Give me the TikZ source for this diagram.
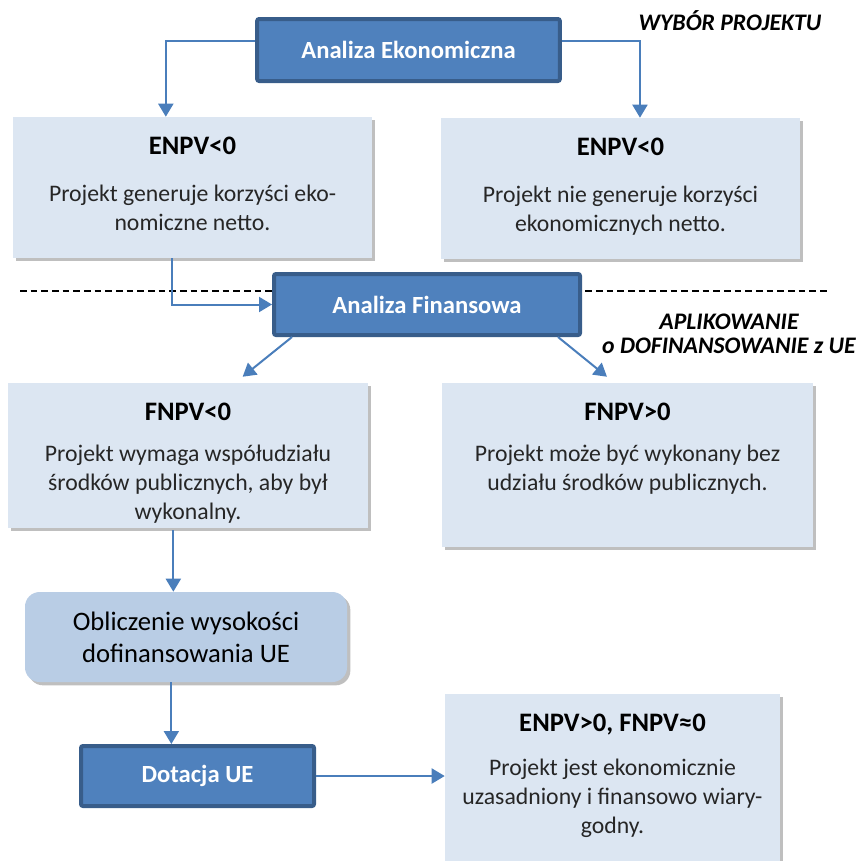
\documentclass[tikz,border=0pt]{standalone}
\usepackage{fontspec}
\setmainfont{Carlito}
\usetikzlibrary{arrows.meta,shadows}

\definecolor{jasny}{HTML}{DCE6F2}
\definecolor{sredni}{HTML}{B9CDE5}
\definecolor{niebieski}{HTML}{4F81BD}
\definecolor{ramka}{HTML}{385D8A}
\definecolor{strzalka}{HTML}{4A7EBB}
\definecolor{tekst}{HTML}{262626}

% wysokosc, szerokosc, naglowek, odstep, opis
\newcommand{\opis}[5]{\parbox[c][#1][t]{#2}{\centering
  \rule{0pt}{27.75pt}{\bfseries\fontsize{20}{24}\selectfont #3\par}\vspace{#4}
  {\color{tekst}\fontsize{17.8}{21.75}\selectfont #5\par}}}

\begin{document}
\begin{tikzpicture}[x=0.75pt,y=-0.75pt,
    glowny/.style={rectangle,draw=ramka,line width=3pt,fill=niebieski,rounded corners=1.5pt,
      text=white,font=\bfseries\fontsize{18.5}{22}\selectfont},
    infobox/.style={rectangle,fill=jasny,inner sep=0pt,
      drop shadow={shadow xshift=2.5pt,shadow yshift=-2.5pt,fill=black,opacity=0.25}},
    oblbox/.style={rectangle,fill=sredni,rounded corners=11pt,align=center,
      font=\fontsize{20}{24}\selectfont,
      drop shadow={shadow xshift=2.5pt,shadow yshift=-2.5pt,fill=black,opacity=0.25}},
    etykieta/.style={align=center,font=\bfseries\itshape\fontsize{17.8}{18}\selectfont},
    strz/.style={draw=strzalka,line width=1.5pt,-{Triangle[length=9.75pt,width=11.25pt]}}]
\useasboundingbox (0,0) rectangle (863,860);

\draw[line width=1.2pt,dash pattern=on 5pt off 3pt] (20,291) -- (828,291);

\node[glowny,minimum width=227pt,minimum height=46.5pt] (ekon) at (408.5,50) {Analiza Ekonomiczna};
\node[infobox] (enpvL) at (192.5,187.5) {\opis{105.75pt}{269.25pt}{ENPV<0}{13.5pt}{Projekt generuje korzyści eko-\\nomiczne netto.}};
\node[infobox] (enpvR) at (620.5,188.5) {\opis{105.75pt}{269.25pt}{ENPV<0}{13.5pt}{Projekt nie generuje korzyści\\ekonomicznych netto.}};
\node[glowny,minimum width=229.5pt,minimum height=45.75pt] (finans) at (427,304.5) {Analiza Finansowa};
\node[infobox] (fnpvL) at (188,455.5) {\opis{108.75pt}{270pt}{FNPV<0}{9pt}{Projekt wymaga współudziału\\środków publicznych, aby był\\wykonalny.}};
\node[infobox] (fnpvR) at (627.5,465) {\opis{123pt}{278.25pt}{FNPV>0}{9pt}{Projekt może być wykonany bez\\udziału środków publicznych.}};
\node[oblbox,minimum width=241.5pt,minimum height=67.5pt] (oblicz) at (186,637) {Obliczenie wysokości\\dofinansowania UE};
\node[glowny,minimum width=174.75pt,minimum height=45pt] (dotacja) at (197.5,776) {Dotacja UE};
\node[infobox] (wynik) at (612.5,782) {\opis{132pt}{251.25pt}{ENPV>0, FNPV≈0}{11.25pt}{Projekt jest ekonomicznie\\uzasadniony i finansowo wiary-\\godny.}};

\node[etykieta] (wybor) at (730,21) {WYBÓR PROJEKTU};
\node[etykieta] (aplik) at (729,334) {APLIKOWANIE\\o DOFINANSOWANIE z UE};

\draw[strz] ([yshift=7pt]ekon.west) -| ([xshift=-20pt]enpvL.north);
\draw[strz] ([yshift=7pt]ekon.east) -| ([xshift=14.6pt]enpvR.north);
\draw[strz] ([xshift=-15.4pt]enpvL.south) |- (finans.west);
\draw[strz] ([xshift=15pt]finans.south west) -- ([xshift=41pt,yshift=4.5pt]fnpvL.north);
\draw[strz] ([xshift=-18pt]finans.south east) -- ([xshift=-15.4pt,yshift=4.5pt]fnpvR.north);
\draw[strz] ([xshift=-11pt,yshift=-1.5pt]fnpvL.south) -- ([xshift=-11pt]fnpvL.south |- oblicz.north);
\draw[strz] ([xshift=-11pt]oblicz.south) -- ([xshift=-11pt]oblicz.south |- dotacja.north);
\draw[strz] (dotacja.east) -- (dotacja.east -| wynik.west);
\end{tikzpicture}
\end{document}
